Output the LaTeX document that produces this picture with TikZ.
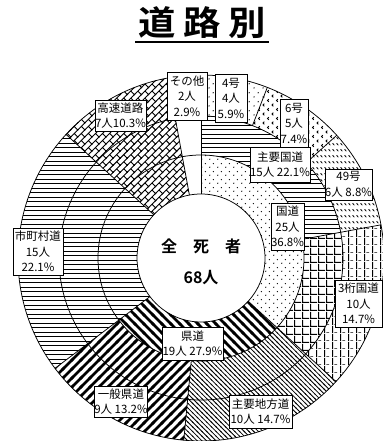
\documentclass[tikz,border=0pt]{standalone}
\usepackage{fontspec}
\newfontfamily\jp{Noto Sans CJK JP}[BoldFont={Noto Sans CJK JP Bold}]
\usetikzlibrary{patterns}
% sparse dots
\pgfdeclarepatternformonly{sdots}{\pgfqpoint{0bp}{0bp}}{\pgfqpoint{8bp}{8bp}}{\pgfqpoint{8bp}{8bp}}{%
  \pgfpathcircle{\pgfqpoint{2bp}{2bp}}{0.75bp}%
  \pgfpathcircle{\pgfqpoint{6bp}{6bp}}{0.75bp}%
  \pgfusepath{fill}}
\pgfdeclarepatternformonly{sdotsB}{\pgfqpoint{0bp}{0bp}}{\pgfqpoint{9bp}{9bp}}{\pgfqpoint{9bp}{9bp}}{%
  \pgfpathcircle{\pgfqpoint{2.25bp}{2.25bp}}{0.75bp}%
  \pgfpathcircle{\pgfqpoint{6.75bp}{6.75bp}}{0.75bp}%
  \pgfusepath{fill}}
% horizontal lines
\pgfdeclarepatternformonly{hl}{\pgfqpoint{-1bp}{0bp}}{\pgfqpoint{41bp}{4.5bp}}{\pgfqpoint{40bp}{4.5bp}}{%
  \pgfpathrectangle{\pgfqpoint{-1bp}{0bp}}{\pgfqpoint{42bp}{1.4bp}}%
  \pgfusepath{fill}}
% thick stripes
\pgfdeclarepatternformonly{thickNW}{\pgfqpoint{-2bp}{-2bp}}{\pgfqpoint{11bp}{11bp}}{\pgfqpoint{9bp}{9bp}}{%
  \pgfsetlinewidth{2.8bp}%
  \pgfpathmoveto{\pgfqpoint{-1.5bp}{10.5bp}}\pgfpathlineto{\pgfqpoint{10.5bp}{-1.5bp}}%
  \pgfusepath{stroke}}
\pgfdeclarepatternformonly{thickNE}{\pgfqpoint{-2bp}{-2bp}}{\pgfqpoint{11bp}{11bp}}{\pgfqpoint{9bp}{9bp}}{%
  \pgfsetlinewidth{2.8bp}%
  \pgfpathmoveto{\pgfqpoint{-1.5bp}{-1.5bp}}\pgfpathlineto{\pgfqpoint{10.5bp}{10.5bp}}%
  \pgfusepath{stroke}}
% thin stripes
\pgfdeclarepatternformonly{thinNW}{\pgfqpoint{-1bp}{-1bp}}{\pgfqpoint{5.7bp}{5.7bp}}{\pgfqpoint{4.7bp}{4.7bp}}{%
  \pgfsetlinewidth{0.8bp}%
  \pgfpathmoveto{\pgfqpoint{-0.6bp}{5.3bp}}\pgfpathlineto{\pgfqpoint{5.3bp}{-0.6bp}}%
  \pgfusepath{stroke}}
% grids
\pgfdeclarepatternformonly{gridB}{\pgfqpoint{0bp}{0bp}}{\pgfqpoint{7.5bp}{7.5bp}}{\pgfqpoint{7.5bp}{7.5bp}}{%
  \pgfpathrectangle{\pgfqpoint{0bp}{0bp}}{\pgfqpoint{1.3bp}{7.5bp}}%
  \pgfpathrectangle{\pgfqpoint{0bp}{0bp}}{\pgfqpoint{7.5bp}{1.3bp}}%
  \pgfusepath{fill}}
\pgfdeclarepatternformonly{gridC}{\pgfqpoint{0bp}{0bp}}{\pgfqpoint{7.5bp}{7.5bp}}{\pgfqpoint{7.5bp}{7.5bp}}{%
  \pgfpathrectangle{\pgfqpoint{0bp}{0bp}}{\pgfqpoint{1.2bp}{7.5bp}}%
  \pgfpathrectangle{\pgfqpoint{2.5bp}{0bp}}{\pgfqpoint{3bp}{0.7bp}}%
  \pgfusepath{fill}}
% chevrons
\pgfdeclarepatternformonly{chev}{\pgfqpoint{-1bp}{-1bp}}{\pgfqpoint{10bp}{10bp}}{\pgfqpoint{9bp}{9bp}}{%
  \pgfsetlinewidth{0.8bp}%
  \pgfpathmoveto{\pgfqpoint{3.3bp}{4.3bp}}\pgfpathlineto{\pgfqpoint{2bp}{3bp}}\pgfpathlineto{\pgfqpoint{3.3bp}{1.7bp}}%
  \pgfpathmoveto{\pgfqpoint{7.8bp}{8.8bp}}\pgfpathlineto{\pgfqpoint{6.5bp}{7.5bp}}\pgfpathlineto{\pgfqpoint{7.8bp}{6.2bp}}%
  \pgfusepath{stroke}}
% short dashes
\pgfdeclarepatternformonly{dashes}{\pgfqpoint{0bp}{0bp}}{\pgfqpoint{4bp}{6bp}}{\pgfqpoint{4bp}{6bp}}{%
  \pgfsetlinewidth{0.9bp}%
  \pgfpathmoveto{\pgfqpoint{0.7bp}{4.3bp}}\pgfpathlineto{\pgfqpoint{2.9bp}{2.1bp}}%
  \pgfusepath{stroke}}
% diagonal bricks
\pgfdeclarepatternformonly{brick}{\pgfqpoint{-1bp}{-1bp}}{\pgfqpoint{8.07bp}{8.07bp}}{\pgfqpoint{7.07bp}{7.07bp}}{%
  \pgfsetlinewidth{0.9bp}%
  \pgfpathmoveto{\pgfqpoint{-0.8bp}{-0.8bp}}\pgfpathlineto{\pgfqpoint{7.87bp}{7.87bp}}%
  \pgfpathmoveto{\pgfqpoint{7.37bp}{-0.3bp}}\pgfpathlineto{\pgfqpoint{3.235bp}{3.835bp}}%
  \pgfusepath{stroke}}
\newcommand\annsec[5]{\fill[pattern=#1] (#2:#4bp) arc[start angle=#2,end angle=#3,radius=#4bp] -- (#3:#5bp) arc[start angle=#3,end angle=#2,radius=#5bp] -- cycle;}
\begin{document}
\begin{tikzpicture}[x=1bp,y=1bp,
  lbl/.style={draw=black,fill=white,line width=0.7bp,inner sep=0pt,align=center,
    font=\jp\fontsize{11.5bp}{15.5bp}\selectfont},
  ringline/.style={line width=0.75bp,draw=black},
  centertext/.style={font=\jp\bfseries\fontsize{16bp}{16bp}\selectfont,inner sep=0pt}]
\useasboundingbox (-201,-183) rectangle (181,258);
\fill[white] (-201,-183) rectangle (181,258);
% inner ring
\annsec{sdots}{90}{-42.48}{64}{103}
\annsec{thickNW}{-42.48}{-142.92}{64}{103}
\annsec{hl}{-142.92}{-222.48}{64}{183}
\annsec{brick}{137.52}{100.44}{64}{183}
% middle ring
\annsec{hl}{90}{10.44}{103}{142}
\annsec{gridB}{10.44}{-42.48}{103}{142}
\annsec{thinNW}{-42.48}{-95.40}{103}{183}
\annsec{thickNE}{-95.40}{-142.92}{103}{183}
% outer ring
\annsec{sdotsB}{90}{68.76}{142}{183}
\annsec{chev}{68.76}{42.12}{142}{183}
\annsec{dashes}{42.12}{10.44}{142}{183}
\annsec{gridC}{10.44}{-42.48}{142}{183}
% circles
\foreach \r in {64,103,142,183} \draw[ringline] (0,0) circle[radius=\r bp];
% radial boundaries
\draw[ringline] (90:64bp) -- (90:183bp);
\draw[ringline] (68.76:142bp) -- (68.76:183bp);
\draw[ringline] (42.12:142bp) -- (42.12:183bp);
\draw[ringline] (10.44:103bp) -- (10.44:183bp);
\draw[ringline] (-42.48:64bp) -- (-42.48:183bp);
\draw[ringline] (-95.40:103bp) -- (-95.40:183bp);
\draw[ringline] (-142.92:64bp) -- (-142.92:183bp);
\draw[ringline] (137.52:64bp) -- (137.52:183bp);
\draw[ringline] (100.44:64bp) -- (100.44:183bp);
% labels
\node[lbl,minimum width=40bp,minimum height=48bp] (sonota) at (-14,162) {その他\\2人\\2.9\%};
\node[lbl,minimum width=32bp,minimum height=48bp] (g4) at (30,160) {4号\\4人\\5.9\%};
\node[lbl,minimum width=28bp,minimum height=48bp] (g6) at (93,135) {6号\\5人\\7.4\%};
\node[lbl,minimum width=56bp,minimum height=35bp] (shuyo) at (79,93.5) {主要国道\\15人 22.1\%};
\node[lbl,minimum width=47bp,minimum height=31bp] (g49) at (147.5,73.5) {49号\\6人 8.8\%};
\node[lbl,minimum width=31bp,minimum height=47bp] (kokudo) at (86.5,31.5) {国道\\25人\\36.8\%};
\node[lbl,minimum width=47bp,minimum height=47bp] (keta3) at (157.5,-45.5) {3桁国道\\10人\\14.7\%};
\node[lbl,minimum width=50bp,minimum height=47bp] (shichoson) at (-163,6.5) {市町村道\\15人\\22.1\%};
\node[lbl,minimum width=51bp,minimum height=31bp] (kosoku) at (-80.5,142.5) {高速道路\\7人10.3\%};
\node[lbl,minimum width=61bp,minimum height=33bp] (kendo) at (-8.5,-85.5) {県道\\19人 27.9\%};
\node[lbl,minimum width=52bp,minimum height=31bp] (ippan) at (-80,-143.5) {一般県道\\9人 13.2\%};
\node[lbl,minimum width=63bp,minimum height=33bp] (chiho) at (59.5,-153.5) {主要地方道\\10人 14.7\%};
% centre
\node[centertext] (zenshisha) at (0,11.5) {全　死　者};
\node[centertext] (total) at (0,-20) {68人};
% title
\node[font=\jp\bfseries\fontsize{34bp}{34bp}\selectfont,inner sep=0pt] (title) at (1,235)
  {\scalebox{1.1}[1]{道\kern7bp 路\kern7bp 別}};
\draw[line width=2bp] ([xshift=-3bp,yshift=-3bp]title.south west) -- ([xshift=3bp,yshift=-3bp]title.south east);
\end{tikzpicture}
\end{document}
